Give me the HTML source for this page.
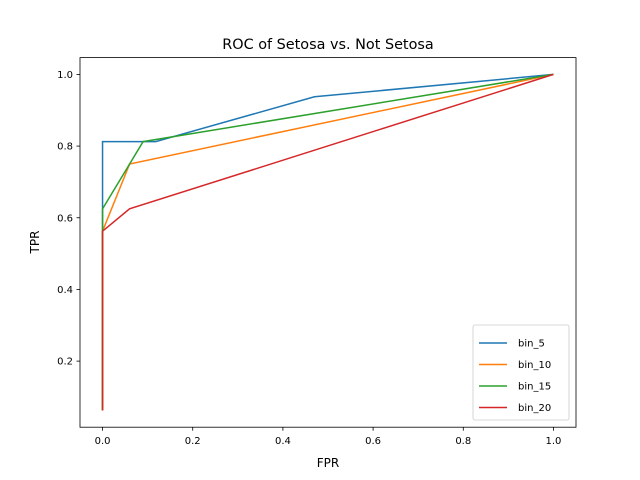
<!DOCTYPE html>
<html><head><meta charset="utf-8"><style>
body{margin:0;background:#fff;}
svg{display:block;font-family:"DejaVu Sans","Liberation Sans",sans-serif;}
</style></head><body>
<svg id="chart" width="640" height="480">
<rect width="640" height="480" fill="#fff"/>
<text x="328" y="49" font-size="14.4" text-anchor="middle">ROC of Setosa vs. Not Setosa</text>
<g id="plot"></g>
<rect x="80" y="57.6" width="496" height="369.6" fill="none" stroke="#000" stroke-width="0.8"/>
<text x="328" y="467" font-size="12" text-anchor="middle">FPR</text>
<text x="0" y="0" font-size="12" text-anchor="middle" transform="translate(39,242) rotate(-90)">TPR</text>
<g id="legend"></g>
</svg>
<script>
const seriesNames=["bin_5","bin_10","bin_15","bin_20"];
const colors=["#1f77b4","#ff7f0e","#2ca02c","#d62728"];
const fpr5=[0,0,0.118,0.47,1];
const tpr5=[0.0625,0.8125,0.8125,0.9375,1];
const fpr10=[0,0,0.06,1];
const tpr10=[0.0625,0.5625,0.75,1];
const fpr15=[0,0,0,0.09,1];
const tpr15=[0.0625,0.5625,0.625,0.8125,1];
const fpr20=[0,0,0.06,1];
const tpr20=[0.0625,0.5625,0.625,1];
const xTicks=[0,0.2,0.4,0.6,0.8,1.0];
const yTicks=[0.2,0.4,0.6,0.8,1.0];
const X0=80,X1=576,Y0=427.2,Y1=57.6;
const xmin=-0.05,xmax=1.05,ymin=0.015625,ymax=1.046875;
const sx=v=>X0+(v-xmin)/(xmax-xmin)*(X1-X0);
const sy=v=>Y0-(v-ymin)/(ymax-ymin)*(Y0-Y1);
const NS="http://www.w3.org/2000/svg";
const plot=document.getElementById('plot');
function mk(t,a,p){const e=document.createElementNS(NS,t);for(const k in a)e.setAttribute(k,a[k]);p.appendChild(e);return e;}
xTicks.forEach(v=>{
 const l=mk('line',{x1:sx(v),x2:sx(v),y1:Y0,y2:Y0+3.5,stroke:'#000','stroke-width':0.8},plot);
 
 
 const t=mk('text',{x:sx(v),y:Y0+17,'font-size':10,'text-anchor':'middle'},plot);t.textContent=v.toFixed(1);
 
 
});
yTicks.forEach(v=>{
 const l=mk('line',{x1:X0-3.5,x2:X0,y1:sy(v),y2:sy(v),stroke:'#000','stroke-width':0.8},plot);
 
 
 const t=mk('text',{x:X0-7,y:sy(v)+3.5,'font-size':10,'text-anchor':'end'},plot);t.textContent=v.toFixed(1);
 
 
});
const xs=[fpr5,fpr10,fpr15,fpr20],ys=[tpr5,tpr10,tpr15,tpr20];
xs.forEach((xa,i)=>{
 const pts=xa.map((x,j)=>sx(x)+','+sy(ys[i][j])).join(' ');
 const p=mk('polyline',{points:pts,fill:'none',stroke:colors[i],'stroke-width':1.5},plot);
 
 
});
const lg=document.getElementById('legend');
const box=mk('rect',{x:473,y:325,width:96,height:95,rx:2,fill:'#fff','fill-opacity':0.8,stroke:'#ccc','stroke-width':0.8},lg);


seriesNames.forEach((n,i)=>{
 const y=343+i*21.5;
 const l=mk('line',{x1:479,x2:507,y1:y,y2:y,stroke:colors[i],'stroke-width':1.5},lg);
 
 
 const t=mk('text',{x:518,y:y+3.5,'font-size':10},lg);t.textContent=n;
 
 
});
</script>
</body></html>
